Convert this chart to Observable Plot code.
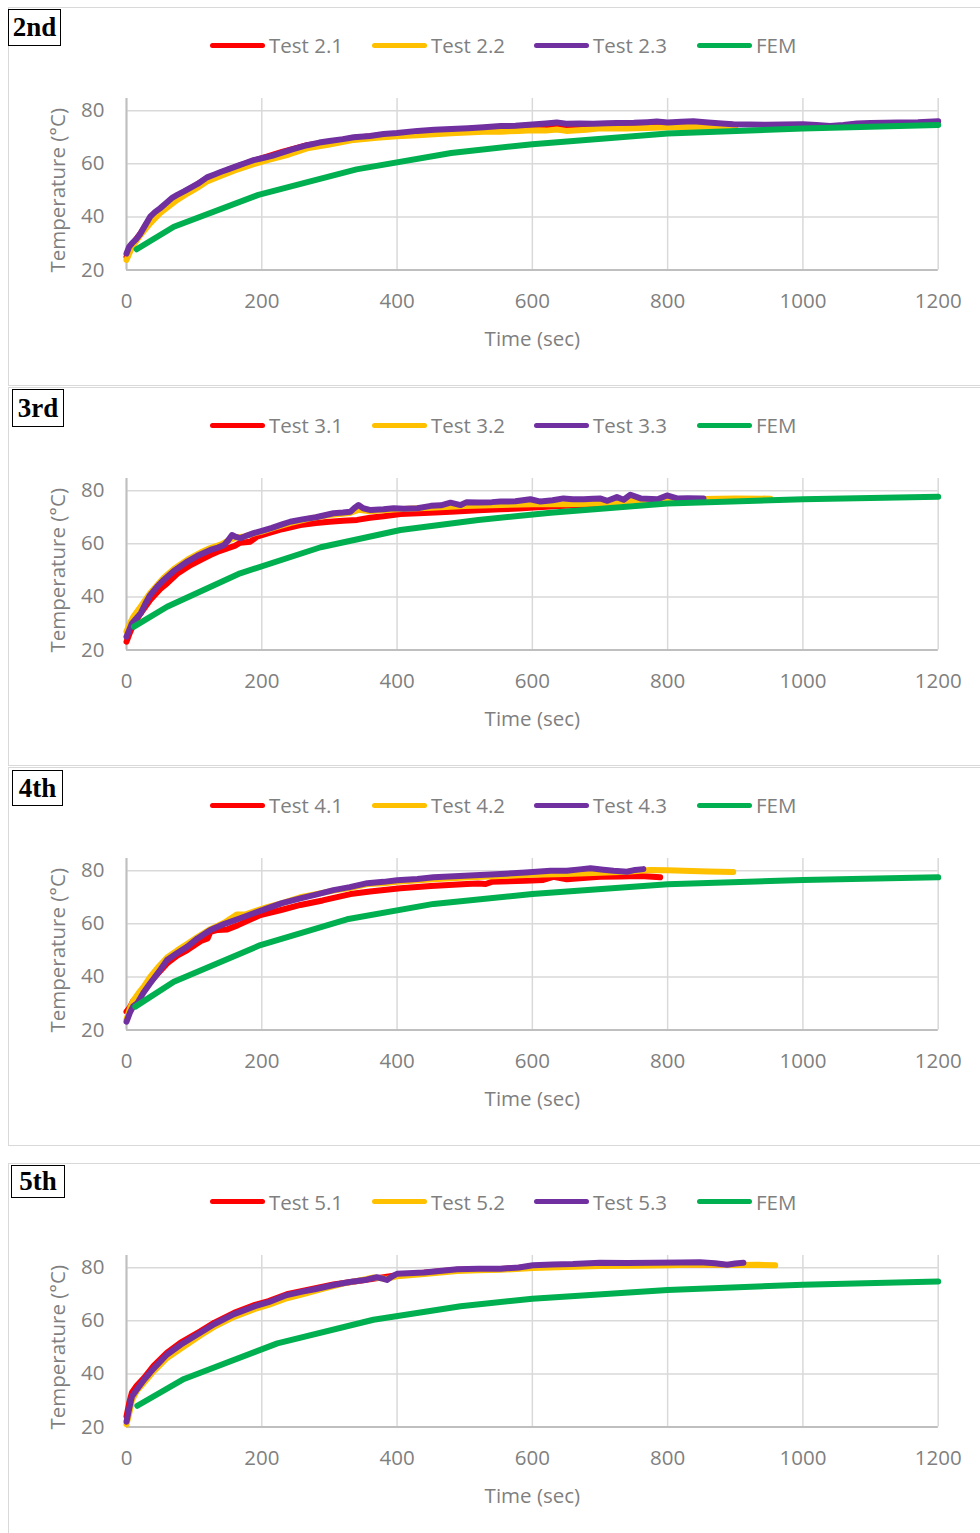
<!DOCTYPE html>
<html>
<head>
<meta charset="utf-8">
<script src="https://cdn.jsdelivr.net/npm/d3@7"></script>
<script src="https://cdn.jsdelivr.net/npm/@observablehq/plot@0.6"></script>
<style>
html,body{margin:0;padding:0;background:#fff;}
body{position:relative;width:980px;height:1533px;overflow:hidden;font-family:"Open Sans",sans-serif;}
.panel{position:absolute;left:8px;width:1000px;border:1.5px solid #d9d9d9;box-sizing:border-box;}
.tag{position:absolute;box-sizing:border-box;border:1.5px solid #000;background:#fff;font-family:"Liberation Serif","Times New Roman",serif;font-weight:bold;font-size:27px;line-height:1;display:flex;align-items:center;justify-content:center;color:#000;}
.item{position:absolute;height:28px;display:flex;align-items:center;font-size:20.5px;color:#7f7f7f;white-space:nowrap;}
.swatch{width:55px;height:5px;border-radius:3px;margin-right:4px;}
.chart{position:absolute;left:0;}
</style>
</head>
<body>
<script>
// ---------- data ----------
const xTicks = [0, 200, 400, 600, 800, 1000, 1200];
const yTicks = [20, 40, 60, 80];
const panelTags = ["2nd", "3rd", "4th", "5th"];
const seriesColors = ["#ff0000", "#ffc000", "#7030a0", "#00b050"];

// 2nd
const names2 = ["Test 2.1", "Test 2.2", "Test 2.3", "FEM"];
const test2_1 = [[0,25],[8,29.5],[20,33.5],[35,39.5],[50,43],[75,48],[100,51.5],[119,54.5],[150,57.7],[188,61.2],[230,64.5],[267,67],[300,68.2],[336,69.7],[380,70.9],[430,72],[480,72.8],[528,73.4],[600,74],[636,74.2],[700,74.4],[780,75],[840,75.2],[900,74.6]];
const test2_2 = [[0,23.8],[8,28.5],[20,33],[35,37.6],[50,41.5],[60,43.5],[75,46.4],[90,48.8],[105,51],[119,53.3],[140,55.5],[160,57.5],[188,59.9],[210,61.5],[240,63.5],[267,65.8],[300,67.3],[336,69],[370,69.8],[400,70.4],[430,70.8],[480,71.5],[528,72.1],[553,72.1],[580,72.4],[600,72.6],[620,72.5],[636,72.9],[650,72.4],[680,72.8],[700,73.4],[740,73.3],[780,73.6],[838,74],[870,73.8],[900,73.8]];
const test2_3 = [[0,26.2],[4,28.8],[8,30],[14,31.5],[20,33.5],[28,37],[35,40.1],[42,41.8],[50,43.3],[60,45.5],[68,47.3],[75,48.3],[85,49.6],[95,51],[105,52.4],[119,54.9],[130,56],[140,57],[150,57.9],[165,59.3],[175,60.2],[188,61.4],[200,62.1],[215,63],[230,64.2],[245,65.4],[267,67],[285,68],[300,68.6],[320,69.3],[336,70],[360,70.5],[380,71.2],[400,71.6],[430,72.4],[455,72.8],[480,73.1],[505,73.4],[528,73.8],[553,74.2],[575,74.3],[600,74.8],[620,75.2],[636,75.6],[650,75.1],[670,75.2],[690,75.1],[710,75.3],[725,75.4],[750,75.5],[770,75.7],[784,75.9],[800,75.6],[820,75.8],[838,76],[860,75.6],[880,75.2],[897,74.9],[920,74.8],[946,74.7],[970,74.8],[1000,74.9],[1020,74.6],[1040,74.2],[1060,74.6],[1080,75.2],[1100,75.4],[1140,75.6],[1170,75.7],[1200,76]];
const fem2 = [[15,27.8],[70,36.3],[195,48.3],[340,57.9],[480,64.1],[600,67.4],[800,71.4],[1000,73.3],[1200,74.6]];

// 3rd
const names3 = ["Test 3.1", "Test 3.2", "Test 3.3", "FEM"];
const test3_1 = [[0,23.1],[5,26.5],[10,29.5],[20,33.5],[35,38.8],[50,43],[60,45.1],[75,48.7],[95,52],[110,54],[124,55.8],[135,57],[149,58.3],[160,59.2],[168,60.4],[183,60.8],[193,62.7],[210,64],[230,65.5],[257,67.1],[280,67.8],[300,68.3],[320,68.7],[341,69],[360,69.8],[380,70.4],[405,71.2],[440,71.6],[479,72.1],[520,72.6],[553,73],[580,73.3],[602,73.7],[640,74.2],[681,74.6],[700,74.8]];
const test3_2 = [[0,27],[5,30],[10,32.5],[20,36],[35,41.5],[55,47.2],[70,50.5],[90,54],[110,56.8],[124,58.4],[140,59.8],[150,61.2],[163,62.5],[175,62.8],[190,64],[200,64.6],[220,66.2],[242,67.8],[270,69.5],[300,70.8],[330,71.6],[343,72.8],[360,72.3],[400,73],[450,73.6],[500,74.2],[553,74.6],[600,74.9],[650,74.9],[700,75.2],[730,75.4],[745,76.3],[770,75.8],[800,76.3],[853,76.9],[900,77.1],[952,77]];
const test3_3 = [[0,25],[4,27.5],[8,30],[14,31.8],[21,33.8],[28,37.5],[35,40.7],[45,43.8],[55,46.4],[70,49.8],[90,53.3],[105,55.5],[124,57.7],[135,58.6],[144,59.5],[150,61.2],[156,63.3],[162,62.6],[168,62.1],[178,63.1],[188,64],[200,64.9],[215,66],[230,67.3],[242,68.3],[260,69.2],[280,70],[306,71.5],[320,71.8],[331,72.1],[337,73.5],[343,74.6],[350,73.4],[361,72.7],[380,73],[395,73.4],[410,73.2],[430,73.4],[450,74.3],[465,74.5],[479,75.5],[494,74.6],[503,75.7],[520,75.6],[540,75.7],[553,75.9],[575,76],[597,76.8],[612,75.9],[630,76.4],[646,77.1],[660,76.8],[676,76.8],[690,77],[700,77.1],[711,76.2],[725,77.6],[735,76.6],[745,78.5],[760,77.1],[785,76.8],[799,78.2],[814,77.1],[830,77.2],[853,77.1]];
const fem3 = [[11,28.8],[60,36.3],[168,48.9],[287,58.7],[405,65.2],[520,69],[627,71.7],[800,75.2],[1000,76.8],[1200,77.7]];

// 4th
const names4 = ["Test 4.1", "Test 4.2", "Test 4.3", "FEM"];
const test4_1 = [[0,26.9],[5,28.5],[10,31],[26,35],[40,39.5],[60,45.1],[75,48],[90,50.1],[110,53.5],[120,54.5],[124,57],[135,57.7],[149,57.9],[165,59.5],[198,63.3],[230,65.3],[257,67.1],[290,68.8],[331,71.2],[360,72.2],[405,73.4],[450,74.2],[503,75],[520,75.2],[531,75],[540,75.8],[553,75.9],[590,76.2],[616,76.5],[631,77.7],[651,76.8],[670,77.2],[700,77.7],[730,77.8],[760,78],[789,77.5]];
const test4_2 = [[0,24],[5,28],[10,31],[18,34],[26,36.5],[35,40],[48,44],[60,47.3],[75,50],[90,52.5],[105,55],[124,58],[145,60.5],[163,63.5],[175,63.5],[190,64.8],[208,66.3],[230,67.8],[257,70],[280,71.2],[306,72.5],[330,73.5],[356,75],[380,75.3],[400,75.8],[454,76.8],[500,77.4],[553,78],[600,78.5],[650,78.8],[700,79.2],[740,79.6],[774,80.3],[800,80.2],[823,80],[860,79.7],[897,79.5]];
const test4_3 = [[0,23.1],[5,26.5],[10,29],[16,30.1],[25,34],[35,37.6],[48,42],[60,46.4],[75,49],[90,51.4],[105,54.5],[124,57.7],[145,60],[168,62.1],[188,64],[208,65.8],[230,67.8],[257,69.6],[280,71],[306,72.7],[330,73.8],[356,75.3],[380,75.8],[400,76.4],[430,76.9],[454,77.5],[500,78.1],[553,78.8],[590,79.3],[627,80],[651,80],[670,80.5],[686,80.9],[705,80.4],[720,80],[740,79.6],[752,80.3],[764,80.6]];
const fem4 = [[13,28.8],[70,38.2],[198,52],[326,61.7],[454,67.5],[600,71.2],[800,74.9],[1000,76.5],[1200,77.5]];

// 5th
const names5 = ["Test 5.1", "Test 5.2", "Test 5.3", "FEM"];
const test5_1 = [[0,24],[4,29],[8,33],[15,35.5],[26,38.5],[40,43],[60,48],[80,51.8],[109,56],[130,59.3],[159,63],[190,66],[210,67.4],[237,70],[260,71.3],[306,73.7],[355,75.5],[400,77.2],[489,79.2],[553,79.5],[601,80.3],[700,81],[800,81.3],[880,81.2]];
const test5_2 = [[0,21],[4,25],[8,30],[15,33.5],[25,36.5],[40,41],[60,46],[80,49.5],[109,54.5],[130,57.8],[159,61.5],[190,64.5],[210,66],[237,68.5],[260,70],[290,72],[320,74],[350,75.5],[365,76.3],[385,75.8],[400,76.8],[440,77.6],[489,78.8],[520,79],[553,79.2],[601,79.9],[650,80.3],[700,80.6],[750,80.7],[800,80.9],[848,81.2],[900,81],[935,81.1],[959,80.9]];
const test5_3 = [[0,22],[4,27],[8,31.5],[15,34],[26,37.8],[40,42],[60,47.3],[80,51],[109,55.5],[130,58.8],[159,62.5],[190,65.5],[210,67],[237,69.7],[260,71],[280,72],[306,73.5],[330,74.6],[355,75.5],[370,76.4],[380,75.8],[385,75.4],[393,76.8],[400,77.7],[440,78.2],[489,79.4],[520,79.6],[553,79.6],[580,80.1],[601,80.9],[630,81.2],[660,81.4],[700,81.9],[740,81.8],[780,81.9],[820,82],[848,82.1],[870,81.7],[888,81.1],[900,81.6],[912,81.9]];
const fem5 = [[16,28],[85,38.1],[223,51.5],[365,60.4],[494,65.5],[600,68.3],[800,71.6],[1000,73.6],[1200,74.8]];

// ---------- layout ----------
const panels = [
  {tag: panelTags[0], names: names2, series: [test2_1, test2_2, test2_3, fem2], top: 7,    h: 379, tagBox: [8, 9, 53, 37],    frameTop: 98},
  {tag: panelTags[1], names: names3, series: [test3_1, test3_2, test3_3, fem3], top: 387,  h: 379, tagBox: [12, 389, 52, 38], frameTop: 478},
  {tag: panelTags[2], names: names4, series: [test4_1, test4_2, test4_3, fem4], top: 767,  h: 379, tagBox: [12, 770, 51, 36], frameTop: 858},
  {tag: panelTags[3], names: names5, series: [test5_1, test5_2, test5_3, fem5], top: 1163, h: 400, tagBox: [11, 1165, 54, 33], frameTop: 1254.5}
];
const legendX = [210, 372, 534, 697];
const FONT = "'Open Sans', sans-serif";
const GRAY = "#7f7f7f";

for (const p of panels) {
  const box = document.createElement("div");
  box.className = "panel";
  box.style.top = p.top + "px";
  box.style.height = p.h + "px";
  document.body.appendChild(box);

  const tag = document.createElement("div");
  tag.className = "tag";
  tag.textContent = p.tag;
  tag.style.left = p.tagBox[0] + "px";
  tag.style.top = p.tagBox[1] + "px";
  tag.style.width = p.tagBox[2] + "px";
  tag.style.height = p.tagBox[3] + "px";
  document.body.appendChild(tag);

  p.names.forEach((name, i) => {
    const it = document.createElement("div");
    it.className = "item";
    it.style.left = legendX[i] + "px";
    it.style.top = (p.frameTop - 53 - 14) + "px";
    const sw = document.createElement("div");
    sw.className = "swatch";
    sw.style.background = seriesColors[i];
    const tx = document.createElement("span");
    tx.textContent = name;
    it.appendChild(sw); it.appendChild(tx);
    document.body.appendChild(it);
  });

  const marginTop = 20, frameH = 171.5, marginBottom = 90;
  const chart = Plot.plot({
    width: 980,
    height: marginTop + frameH + marginBottom,
    marginLeft: 126, marginRight: 42.3, marginTop, marginBottom,
    x: {domain: [0, 1200]},
    y: {domain: [20, 84.6]},
    style: {fontFamily: FONT, fontSize: "20px", color: GRAY, background: "transparent", overflow: "visible"},
    marks: [
      Plot.gridX(xTicks, {stroke: "#d9d9d9", strokeOpacity: 1, strokeWidth: 1.5}),
      Plot.gridY(yTicks, {stroke: "#d9d9d9", strokeOpacity: 1, strokeWidth: 1.5}),
      Plot.ruleX([0], {stroke: "#bfbfbf", strokeWidth: 2}),
      Plot.ruleY([20], {stroke: "#bfbfbf", strokeWidth: 2}),
      Plot.axisX(xTicks, {tickSize: 0, tickPadding: 23, label: null, fontSize: 20.5, fill: GRAY, tickFormat: d => String(d)}),
      Plot.axisY(yTicks, {tickSize: 0, tickPadding: 22, label: null, fontSize: 20.5, fill: GRAY, tickFormat: d => String(d)}),
      Plot.text(["Time (sec)"], {frameAnchor: "bottom", dy: 69, textAnchor: "middle", lineAnchor: "middle", fontSize: 20.5, fill: GRAY}),
      Plot.text(["Temperature (°C)"], {frameAnchor: "left", dx: -68, dy: 6, rotate: -90, textAnchor: "middle", lineAnchor: "middle", fontSize: 20.5, fill: GRAY}),
      ...p.series.map((s, i) => Plot.line(s, {
        x: d => d[0], y: d => d[1],
        stroke: seriesColors[i], strokeWidth: 6,
        strokeLinecap: "round", strokeLinejoin: "round"
      }))
    ]
  });
  chart.classList.add("chart");
  chart.style.top = (p.frameTop - marginTop) + "px";
  chart.style.position = "absolute";
  chart.style.left = "0px";
  document.body.appendChild(chart);
}
</script>
</body>
</html>
